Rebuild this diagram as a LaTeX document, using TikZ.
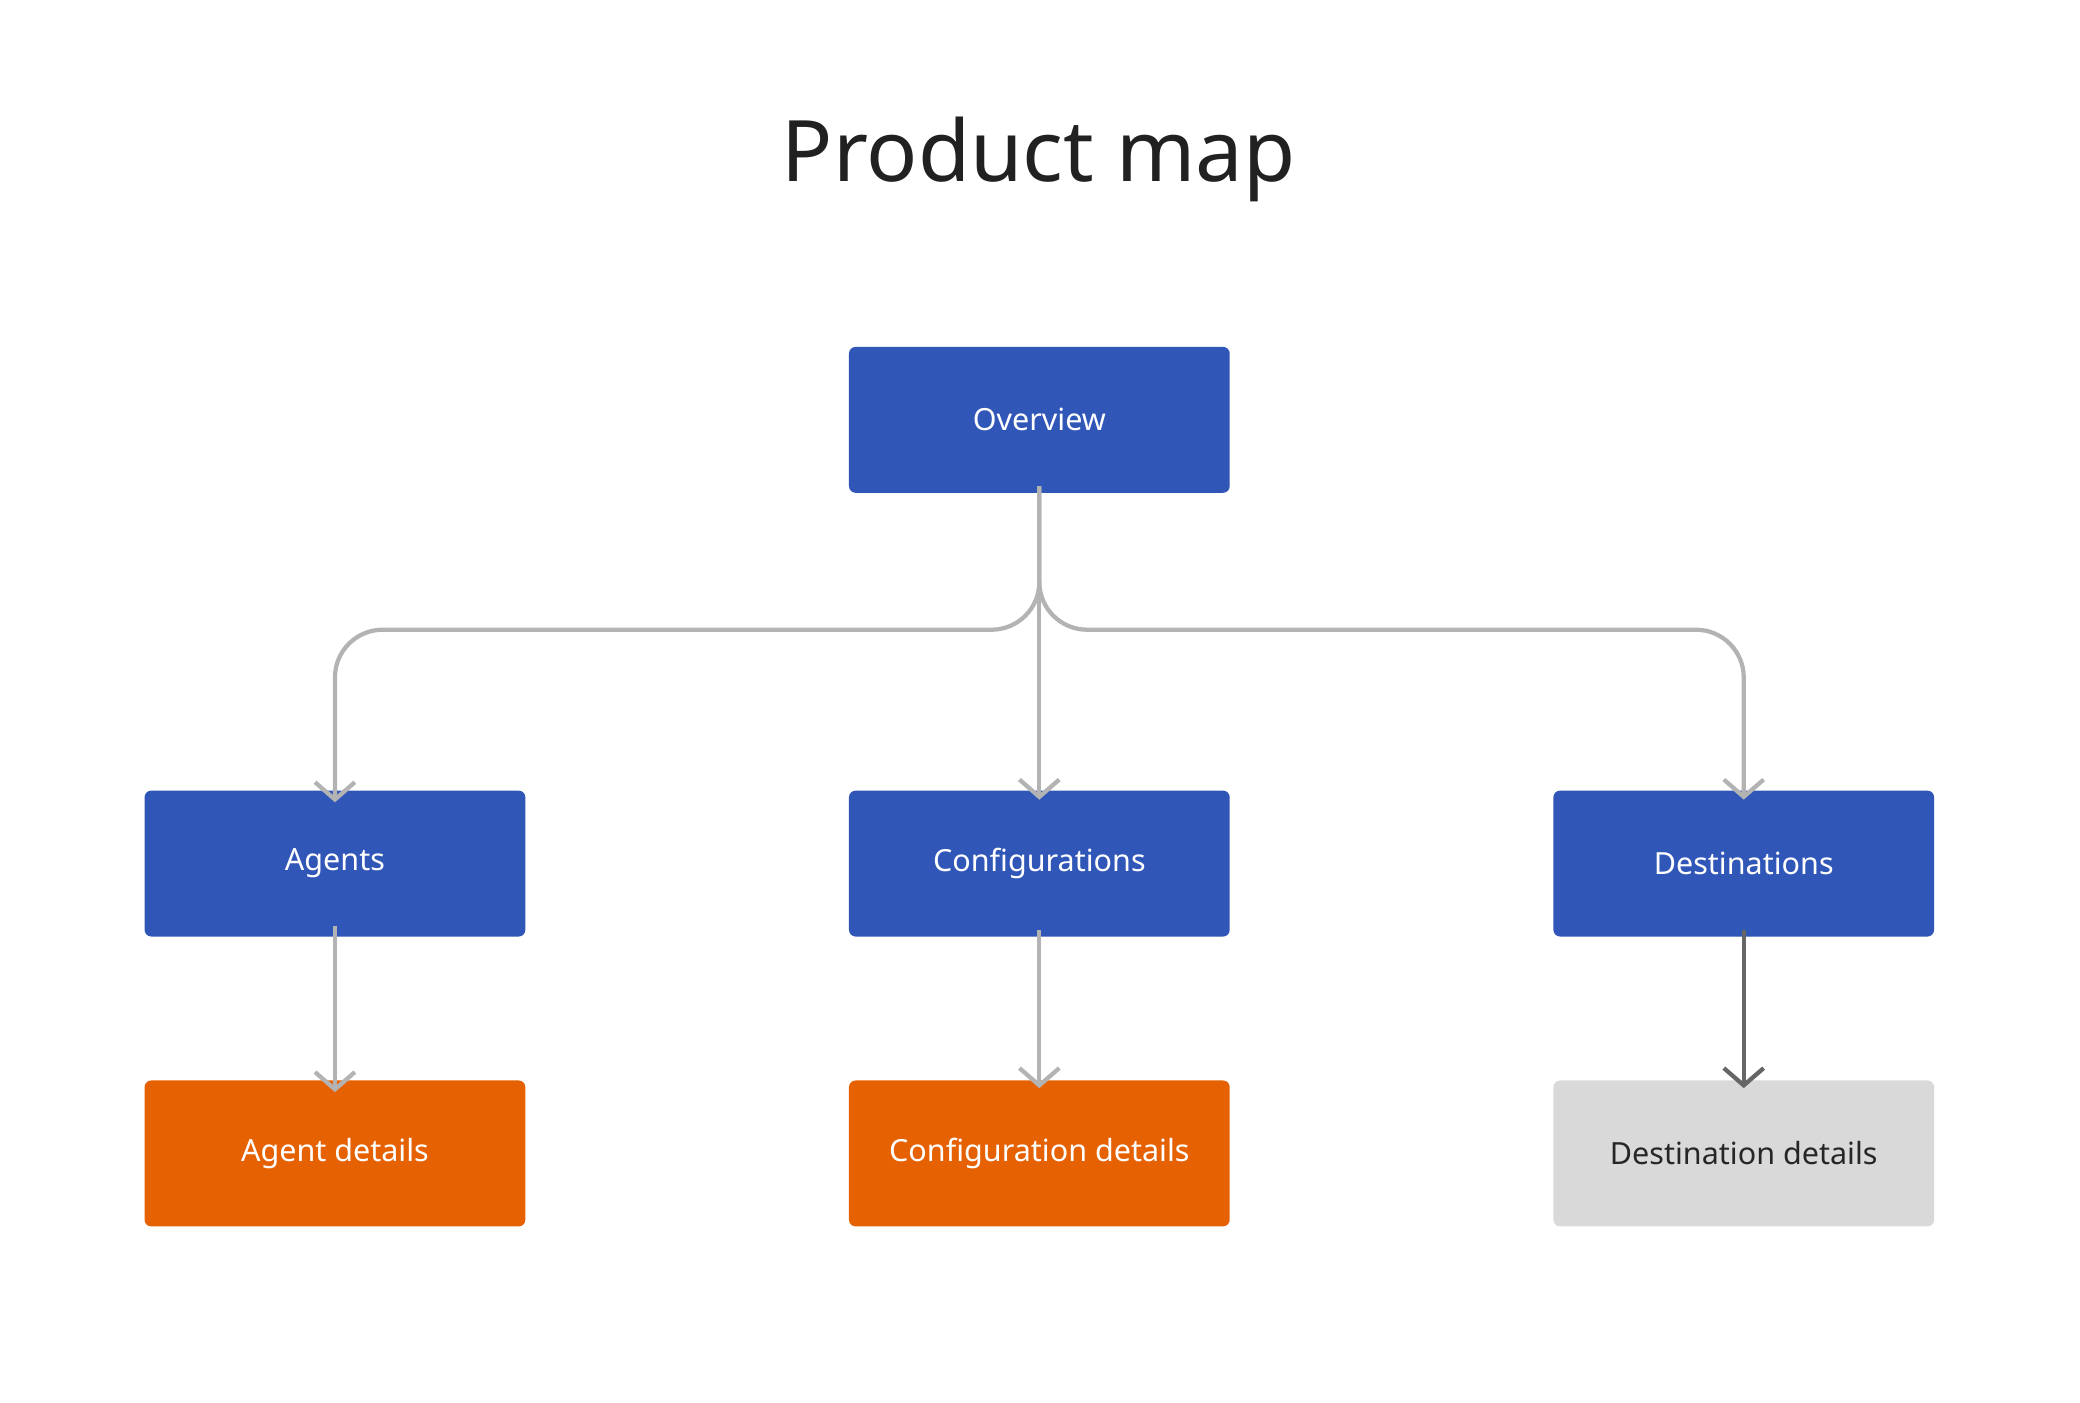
\documentclass[tikz,border=0pt]{standalone}
\usepackage{fontspec}
\setmainfont{Noto Sans}
\usetikzlibrary{arrows.meta}
\definecolor{bluebox}{HTML}{3056B8}
\definecolor{orangebox}{HTML}{E66102}
\definecolor{greybox}{HTML}{D9D9D9}
\definecolor{conn}{HTML}{B3B3B3}
\definecolor{connd}{HTML}{666666}
\tikzset{
  box/.style={rounded corners=5pt, minimum width=287pt, minimum height=110pt, inner sep=0pt, font=\fontsize{23}{27}\selectfont},
  bbox/.style={box, fill=bluebox, text=white},
  obox/.style={box, fill=orangebox, text=white},
  gbox/.style={box, fill=greybox, text=black!85},
  link/.style={draw=conn, line width=3.2pt, rounded corners=36pt, -{Straight Barb[length=13pt,width=30pt,line width=3.2pt]}},
  linkd/.style={link, draw=connd}
}
\begin{document}
\begin{tikzpicture}[x=1pt,y=-1pt]
\useasboundingbox (0,0) rectangle (1568,1057);
\fill[white] (0,0) rectangle (1568,1057);
\node[font=\fontsize{64}{70}\selectfont\bfseries, text=black!87] (title) at (783,120) {Product map};
\node[bbox] (ov) at (783.5,316.5) {Overview};
\node[bbox] (ag) at (252.5,651) {Agents};
\node[bbox] (cf) at (783.5,651) {Configurations};
\node[bbox] (de) at (1314.5,651) {Destinations};
\node[obox] (agd) at (252.5,869.5) {Agent details};
\node[obox] (cfd) at (783.5,869.5) {Configuration details};
\node[gbox] (ded) at (1314.5,869.5) {Destination details};
\draw[link] ([yshift=5pt]ov.south) -- ++(0,108) -| ([yshift=-9pt]ag.north);
\draw[link] ([yshift=5pt]ov.south) -- ++(0,108) -| ([yshift=-7pt]de.north);
\draw[link] ([yshift=5pt]ov.south) -- ([yshift=-7pt]cf.north);
\draw[link] ([yshift=8pt]ag.south) -- ([yshift=-9pt]agd.north);
\draw[link] ([yshift=5pt]cf.south) -- ([yshift=-6pt]cfd.north);
\draw[linkd] ([yshift=5pt]de.south) -- ([yshift=-6pt]ded.north);
\end{tikzpicture}
\end{document}
